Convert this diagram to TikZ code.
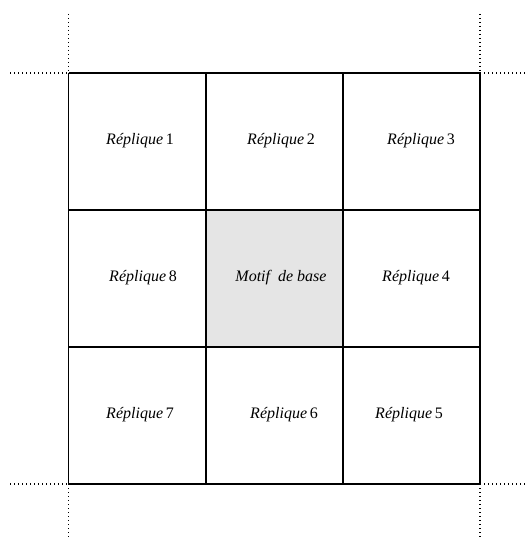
\documentclass[tikz,border=0pt]{standalone}
\usepackage{fontspec}
\setmainfont{Liberation Serif}
\tikzset{
  gridline/.style={line width=1.3pt,black},
  extline/.style={dash pattern=on 1.4pt off 2.6pt,line width=1.2pt,black},
  basecell/.style={fill=black!10},
  celltext/.style={font=\fontsize{16}{18}\selectfont,inner sep=0pt}
}
\begin{document}
\begin{tikzpicture}[x=1pt,y=-1pt]
  \useasboundingbox (0,0) rectangle (528,537);
  \path[basecell] (206,210) rectangle (343,347);
  % grid
  \foreach \p in {68.5,206,343,480}
    \draw[gridline] (\p,73) -- (\p,484);
  \foreach \p in {73,210,347,484}
    \draw[gridline] (68.5,\p) -- (480,\p);
  % extensions
  \foreach \p in {68.5,480} {
    \draw[extline] (\p,14) -- (\p,73);
    \draw[extline] (\p,484) -- (\p,537);
  }
  \foreach \p in {73,484} {
    \draw[extline] (10,\p) -- (68.5,\p);
    \draw[extline] (480,\p) -- (527,\p);
  }
  % labels
  \node[celltext] (rep1) at (140,141) {\textit{Réplique}\,1};
  \node[celltext] (rep2) at (281,141) {\textit{Réplique}\,2};
  \node[celltext] (rep3) at (421,141) {\textit{Réplique}\,3};
  \node[celltext] (rep8) at (143,278) {\textit{Réplique}\,8};
  \node[celltext] (motif) at (281,278) {\textit{Motif \ de base}};
  \node[celltext] (rep4) at (416,278) {\textit{Réplique}\,4};
  \node[celltext] (rep7) at (140,415) {\textit{Réplique}\,7};
  \node[celltext] (rep6) at (284,415) {\textit{Réplique}\,6};
  \node[celltext] (rep5) at (409,415) {\textit{Réplique}\,5};
\end{tikzpicture}
\end{document}
